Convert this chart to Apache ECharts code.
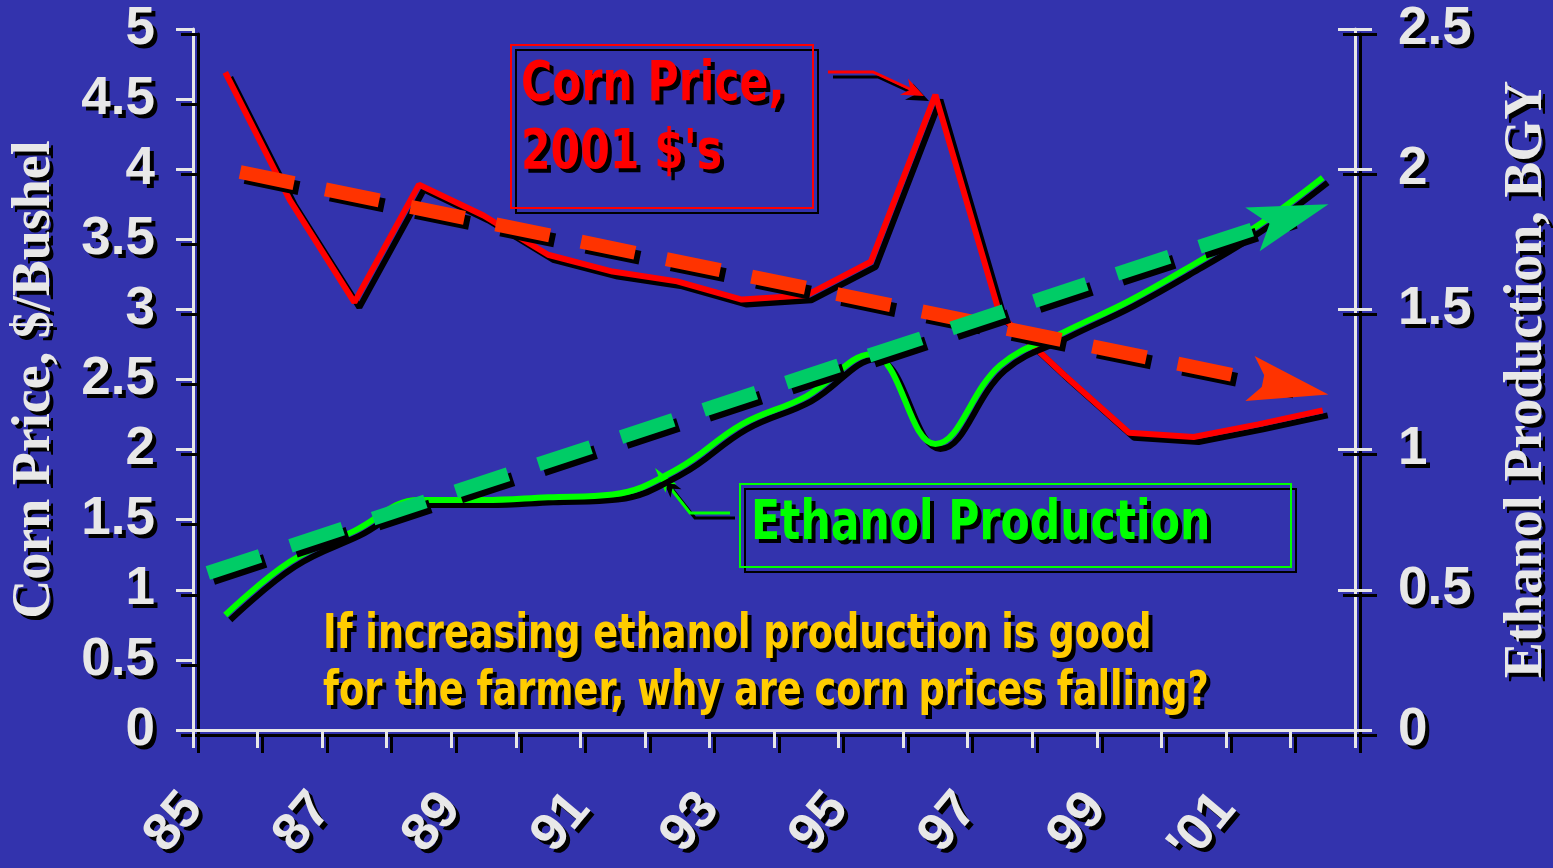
<!DOCTYPE html>
<html>
<head>
<meta charset="utf-8">
<script src="https://cdn.jsdelivr.net/npm/echarts@6/dist/echarts.min.js"></script>
<style>
  html, body { margin: 0; padding: 0; background: #3333ad; }
  #chart { width: 1553px; height: 868px; }
</style>
</head>
<body>
<div id="chart"></div>
<script>
// annual values, drawn at mid-year between the year ticks
const years = [1985, 1986, 1987, 1988, 1989, 1990, 1991, 1992, 1993,
               1994, 1995, 1996, 1997, 1998, 1999, 2000, 2001, 2002];
const cornPrice = [4.69, 3.78, 3.05, 3.89, 3.67, 3.39, 3.27, 3.20, 3.07,
                   3.10, 3.34, 4.53, 2.96, 2.53, 2.12, 2.09, 2.18, 2.28];
const ethanolProd = [0.41, 0.60, 0.71, 0.82, 0.82, 0.83, 0.84, 0.93, 1.09,
                     1.19, 1.34, 1.02, 1.30, 1.42, 1.53, 1.66, 1.80, 1.97];

// dashed trend arrows (start, end)
const cornTrendX = [1985.73, 2001.98];
const cornTrendY = [3.98, 2.45];
const ethanolTrendX = [1985.23, 2002.0];
const ethanolTrendY = [0.56, 1.83];

// one label per year tick, 1985..2003
const xTickLabels = ['85', '', '87', '', '89', '', '91', '', '93', '',
                     '95', '', '97', '', '99', '', "'01", '', ''];

const TXT = '#e8e8e8';
const SANS = '"Liberation Sans", Arial, sans-serif';
const COND = '"DejaVu Sans Condensed", "DejaVu Sans", sans-serif';
const SERIF = '"Liberation Serif", "Times New Roman", serif';

const shadow = { shadowColor: '#000', shadowOffsetX: 5, shadowOffsetY: 5, shadowBlur: 0.01 };
const textShadow = { textShadowColor: '#000', textShadowOffsetX: 4, textShadowOffsetY: 4, textShadowBlur: 0.01 };

// slim notched arrowhead, padded to a square box so it is not stretched
const arrowHead = 'path://M0,0M80,80M40,0L63,80L40,62L17,80Z';

const axisLineStyle = Object.assign({ color: TXT, width: 3 }, shadow);
const tickLabel = Object.assign({
  color: TXT, fontFamily: SANS, fontWeight: 'bold', fontSize: 53
}, textShadow);

const chart = echarts.init(document.getElementById('chart'));

const option = {
  backgroundColor: '#3333ad',
  animation: false,
  grid: { left: 193, right: 198, top: 29, bottom: 138, outerBoundsMode: 'none', containLabel: false },
  xAxis: {
    type: 'value',
    min: 1985,
    max: 2003,
    interval: 1,
    axisLine: { show: true, onZero: false, lineStyle: axisLineStyle },
    axisTick: { show: true, length: 18, lineStyle: axisLineStyle },
    splitLine: { show: false },
    axisLabel: Object.assign({}, tickLabel, {
      rotate: 50,
      margin: 70,
      formatter: (v) => xTickLabels[Math.round(v - 1985)] || ''
    })
  },
  yAxis: [
    {
      type: 'value',
      position: 'left',
      min: 0,
      max: 5,
      interval: 0.5,
      name: 'Corn Price, $/Bushel',
      nameLocation: 'middle',
      nameRotate: 90,
      nameGap: 131,
      nameTextStyle: Object.assign({
        color: TXT, fontFamily: SERIF, fontWeight: 'bold', fontSize: 54
      }, textShadow),
      axisLine: { show: true, lineStyle: axisLineStyle },
      axisTick: { show: true, length: 17, lineStyle: axisLineStyle },
      splitLine: { show: false },
      axisLabel: Object.assign({}, tickLabel, { margin: 38 })
    },
    {
      type: 'value',
      position: 'right',
      min: 0,
      max: 2.5,
      interval: 0.5,
      name: 'Ethanol Production, BGY',
      nameLocation: 'middle',
      nameRotate: 90,
      nameGap: 145,
      nameTextStyle: Object.assign({
        color: TXT, fontFamily: SERIF, fontWeight: 'bold', fontSize: 54
      }, textShadow),
      axisLine: { show: true, lineStyle: axisLineStyle },
      axisTick: { show: true, length: 17, lineStyle: axisLineStyle },
      splitLine: { show: false },
      axisLabel: Object.assign({}, tickLabel, { margin: 43 })
    },
    {
      // inner half of the crossing ticks on the right axis
      type: 'value',
      position: 'right',
      min: 0,
      max: 2.5,
      interval: 0.5,
      axisLine: { show: false },
      axisTick: { show: true, inside: true, length: 17, lineStyle: axisLineStyle },
      axisLabel: { show: false },
      splitLine: { show: false }
    }
  ],
  series: [
    {
      name: 'Corn Price',
      type: 'line',
      yAxisIndex: 0,
      z: 2,
      symbol: 'none',
      silent: true,
      data: years.map((y, i) => [y + 0.5, cornPrice[i]]),
      lineStyle: Object.assign({ color: '#ff0000', width: 6 }, shadow),
      markLine: {
        silent: true,
        symbol: ['none', arrowHead],
        symbolSize: 80,
        label: { show: false },
        lineStyle: Object.assign({ color: '#ff3300', width: 14, type: [55, 32], opacity: 1 }, shadow),
        data: [[
          { coord: [cornTrendX[0], cornTrendY[0]] },
          { coord: [cornTrendX[1], cornTrendY[1]] }
        ]]
      }
    },
    {
      name: 'Ethanol Production',
      type: 'line',
      yAxisIndex: 1,
      z: 3,
      symbol: 'none',
      silent: true,
      smooth: 0.4,
      data: years.map((y, i) => [y + 0.5, ethanolProd[i]]),
      lineStyle: Object.assign({ color: '#00ff00', width: 6 }, shadow),
      markLine: {
        silent: true,
        symbol: ['none', arrowHead],
        symbolSize: 80,
        label: { show: false },
        lineStyle: Object.assign({ color: '#00cc66', width: 14, type: [55, 32], opacity: 1 }, shadow),
        data: [[
          { coord: [ethanolTrendX[0], ethanolTrendY[0]] },
          { coord: [ethanolTrendX[1], ethanolTrendY[1]] }
        ]]
      }
    }
  ],
  graphic: [
    // corn price call-out
    {
      type: 'rect',
      shape: { x: 511, y: 45, width: 302, height: 163 },
      style: Object.assign({ fill: 'none', stroke: '#ff0000', lineWidth: 2 }, shadow)
    },
    {
      type: 'text',
      x: 521, y: 52, scaleX: 0.86,
      style: Object.assign({
        text: "Corn Price,\n2001 $'s",
        x: 0, y: 0,
        font: 'bold 55px ' + COND,
        lineHeight: 68,
        fill: '#ff0000'
      }, textShadow)
    },
    {
      type: 'polyline',
      shape: { points: [[828, 72], [873, 72], [912, 90]] },
      style: Object.assign({ stroke: '#ff0000', lineWidth: 3, fill: null }, shadow)
    },
    {
      type: 'polygon',
      shape: { points: [[924, 96], [908, 78.5], [910.4, 89.6], [900, 94.7]] },
      style: Object.assign({ fill: '#ff0000' }, shadow)
    },
    // ethanol call-out
    {
      type: 'rect',
      shape: { x: 740, y: 484, width: 551, height: 83 },
      style: Object.assign({ fill: 'none', stroke: '#00ff00', lineWidth: 2 }, shadow)
    },
    {
      type: 'text',
      x: 751, y: 491, scaleX: 0.86,
      style: Object.assign({
        text: 'Ethanol Production',
        x: 0, y: 0,
        font: 'bold 55px ' + COND,
        lineHeight: 68,
        fill: '#00ff00'
      }, textShadow)
    },
    {
      type: 'polyline',
      shape: { points: [[730, 513], [690, 513], [668, 485]] },
      style: Object.assign({ stroke: '#00ff00', lineWidth: 3, fill: null }, shadow)
    },
    {
      type: 'polygon',
      shape: { points: [[655, 468], [676.5, 484.2], [667.3, 483.8], [665.5, 492.8]] },
      style: Object.assign({ fill: '#00ff00' }, shadow)
    },
    // question
    {
      type: 'text',
      x: 323, y: 607, scaleX: 0.85,
      style: Object.assign({
        text: 'If increasing ethanol production is good\nfor the farmer, why are corn prices falling?',
        x: 0, y: 0,
        font: 'bold 48px ' + COND,
        lineHeight: 57,
        fill: '#ffcc00'
      }, textShadow)
    }
  ]
};

chart.setOption(option);
window.addEventListener('resize', () => chart.resize());
</script>
</body>
</html>
